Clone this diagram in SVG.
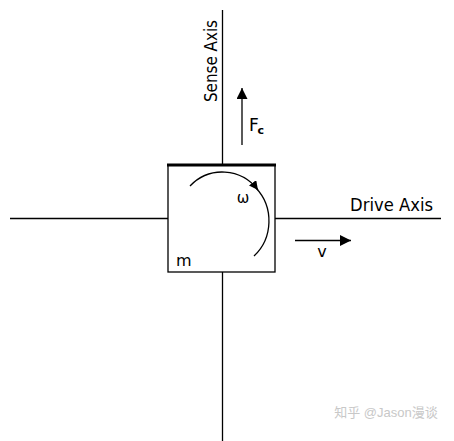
<svg xmlns="http://www.w3.org/2000/svg" width="454" height="441" viewBox="0 0 454 441">
<style>
.ln{stroke:#000;stroke-width:1.3;fill:none}
.t{font-family:"DejaVu Sans","Liberation Sans",sans-serif;fill:#000}
</style>
<defs>
<marker id="ah" viewBox="0 0 10 10" refX="10" refY="5" markerWidth="9" markerHeight="9" markerUnits="userSpaceOnUse" orient="auto"><path d="M0,0 L10,5 L0,10 z" fill="#000"/></marker>
<marker id="ah2" viewBox="0 0 10 10" refX="10" refY="5" markerWidth="12" markerHeight="11" markerUnits="userSpaceOnUse" orient="auto"><path d="M0,0 L10,5 L0,10 z" fill="#000"/></marker>
</defs>
<rect width="454" height="441" fill="#fff"/>
<g id="connectors">
<line class="ln" x1="222.5" y1="10" x2="222.5" y2="165"/>
<line class="ln" x1="222.5" y1="272" x2="222.5" y2="441"/>
<line class="ln" x1="10" y1="218.5" x2="168" y2="218.5"/>
<line class="ln" x1="275" y1="218.5" x2="441" y2="218.5"/>
</g>
<g id="mass">
<rect x="168" y="165" width="107" height="107" class="ln"/>
<line x1="167" y1="165" x2="276" y2="165" stroke="#000" stroke-width="3"/>
<path class="ln" d="M190,186 A45,46 0 0 1 258,190" marker-end="url(#ah)"/>
<path class="ln" d="M256,188 A45,47 0 0 1 254,256"/>
<text class="t" x="243" y="203" font-size="15" text-anchor="middle">ω</text>
<text class="t" x="176" y="266" font-size="16">m</text>
</g>
<g id="sense-label">
<text class="t" transform="translate(216.5,61) rotate(-90)" font-size="17.5" text-anchor="middle" textLength="82" lengthAdjust="spacingAndGlyphs">Sense Axis</text>
</g>
<g id="drive-label">
<text class="t" x="350" y="210.5" font-size="17.5" textLength="83" lengthAdjust="spacingAndGlyphs">Drive Axis</text>
</g>
<g id="force">
<line class="ln" x1="242" y1="145" x2="242" y2="88" marker-end="url(#ah2)"/>
<text class="t" x="249" y="131" font-size="17">F</text>
<text class="t" x="257.5" y="134" font-size="11" font-weight="bold">c</text>
</g>
<g id="velocity">
<line class="ln" x1="295" y1="240.5" x2="351" y2="240.5" marker-end="url(#ah2)"/>
<text class="t" x="322" y="257" font-size="16" text-anchor="middle">v</text>
</g>
<text x="386" y="417" font-size="13" text-anchor="middle" fill="#c8c8c8" font-family="'Liberation Sans','Noto Sans CJK SC',sans-serif">知乎 @Jason漫谈</text>
</svg>
